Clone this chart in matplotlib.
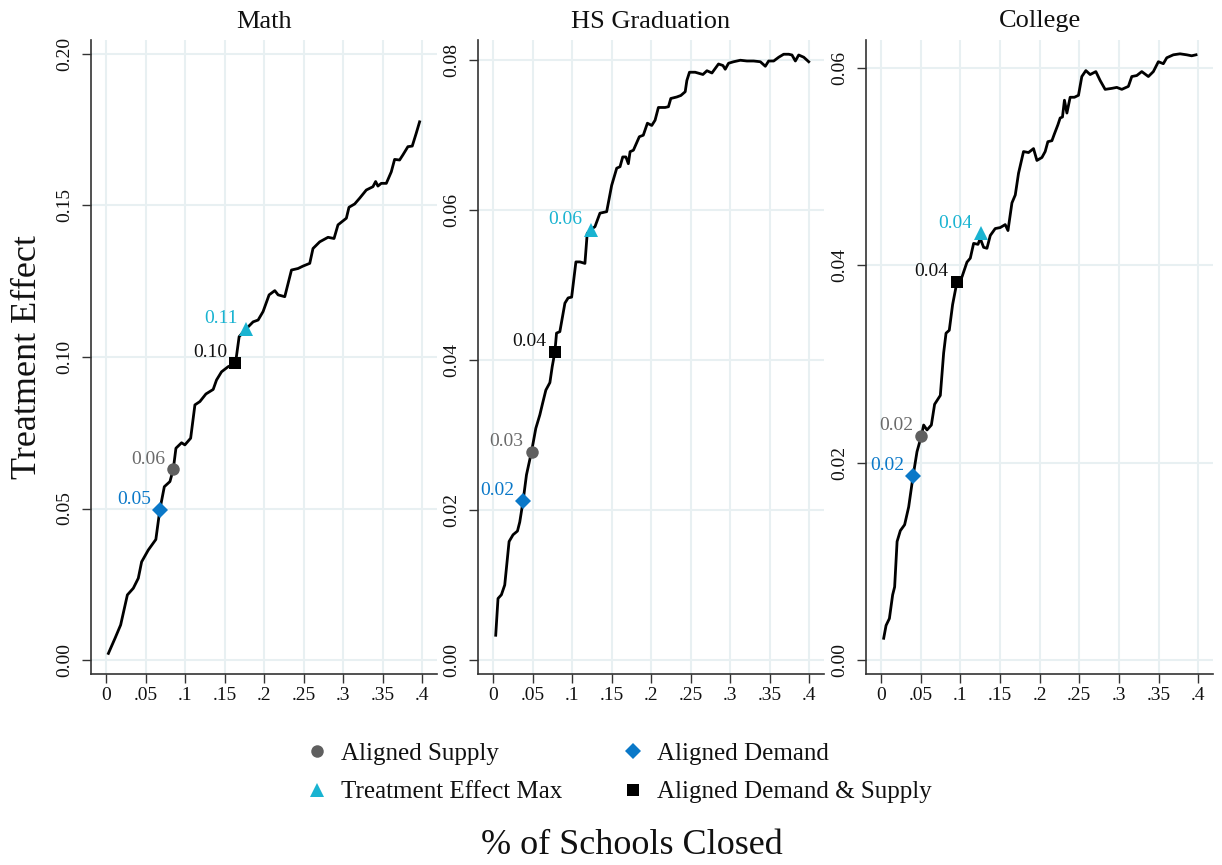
import matplotlib
matplotlib.use("Agg")
import matplotlib.pyplot as plt
from matplotlib.lines import Line2D

plt.rcParams['font.family'] = ['Liberation Serif', 'DejaVu Serif']

# ---------------- data ----------------
titles = ["Math", "HS Graduation", "College"]

math_x = [0.003, 0.0114, 0.0185, 0.027, 0.0345, 0.0408, 0.045, 0.0534, 0.063, 0.068, 0.0737, 0.0808, 0.085, 0.0884, 0.0955,
          0.0997, 0.107, 0.1124, 0.1187, 0.1263, 0.1355, 0.1397, 0.146, 0.1544, 0.1637, 0.1683, 0.1776, 0.186, 0.1923, 0.1986,
          0.2062, 0.2134, 0.2176, 0.226, 0.2345, 0.2428, 0.2491, 0.2576, 0.2617, 0.2702, 0.2807, 0.2883, 0.2933, 0.3039, 0.3072,
          0.3144, 0.3207, 0.3291, 0.3375, 0.3409, 0.3438, 0.348, 0.3544, 0.3607, 0.3649, 0.3712, 0.3754, 0.3817, 0.3872, 0.3922, 0.3965]
math_y = [0.0022, 0.0072, 0.0116, 0.0215, 0.0237, 0.027, 0.0324, 0.0363, 0.0398, 0.0495, 0.0572, 0.0589, 0.0629, 0.0699, 0.0717,
          0.071, 0.0732, 0.0842, 0.0853, 0.0878, 0.0893, 0.0924, 0.0951, 0.0968, 0.0979, 0.1067, 0.1094, 0.1116, 0.1122, 0.115,
          0.1205, 0.1219, 0.1205, 0.1199, 0.1287, 0.1292, 0.13, 0.1309, 0.1358, 0.138, 0.1395, 0.1391, 0.1436, 0.1458, 0.1494,
          0.1505, 0.1524, 0.1551, 0.1562, 0.1579, 0.1564, 0.1573, 0.1573, 0.1611, 0.1652, 0.165, 0.1667, 0.1694, 0.1696, 0.1738, 0.1776]

hs_x = [0.0034, 0.0063, 0.0106, 0.0148, 0.0203, 0.0253, 0.0309, 0.0338, 0.038, 0.0423, 0.0487, 0.0541, 0.0592, 0.0626, 0.0668,
        0.0719, 0.0748, 0.0782, 0.0803, 0.0845, 0.0909, 0.095, 0.0994, 0.1048, 0.1099, 0.1162, 0.1191, 0.1234, 0.1289, 0.1352,
        0.1437, 0.15, 0.1564, 0.1606, 0.164, 0.168, 0.1711, 0.1733, 0.1775, 0.185, 0.19, 0.1952, 0.2007, 0.2049, 0.2091,
        0.2176, 0.2218, 0.2248, 0.2324, 0.2375, 0.243, 0.2451, 0.2484, 0.2556, 0.2654, 0.2705, 0.2768, 0.2851, 0.2907, 0.2936,
        0.2978, 0.3042, 0.3127, 0.3211, 0.3295, 0.338, 0.3443, 0.3485, 0.3549, 0.3612, 0.3675, 0.3739, 0.378, 0.3823, 0.3865,
        0.3929, 0.3992]
hs_y = [0.0033, 0.0082, 0.0087, 0.01, 0.0158, 0.0167, 0.0172, 0.0184, 0.0212, 0.0247, 0.0278, 0.0309, 0.0327, 0.0342, 0.036,
        0.037, 0.0391, 0.0411, 0.0436, 0.0438, 0.0476, 0.0483, 0.0484, 0.0531, 0.0531, 0.0529, 0.0569, 0.0574, 0.0578, 0.0596,
        0.0598, 0.0633, 0.0656, 0.0658, 0.0671, 0.0671, 0.0662, 0.0678, 0.068, 0.0698, 0.07, 0.0716, 0.0713, 0.072, 0.0737,
        0.0737, 0.0738, 0.0749, 0.0751, 0.0753, 0.0758, 0.0773, 0.0784, 0.0784, 0.0781, 0.0786, 0.0783, 0.0795, 0.0793, 0.0788,
        0.0796, 0.0798, 0.08, 0.0799, 0.0799, 0.0798, 0.0792, 0.0799, 0.0799, 0.0804, 0.0808, 0.0808, 0.0807, 0.0799, 0.0807,
        0.0804, 0.0798]

col_x = [0.0033, 0.0063, 0.0105, 0.0146, 0.0171, 0.0202, 0.0243, 0.0297, 0.0348, 0.0403, 0.0453, 0.0508, 0.0537, 0.0579, 0.0634,
         0.0675, 0.0747, 0.0789, 0.0819, 0.086, 0.0902, 0.0957, 0.102, 0.1083, 0.1125, 0.1167, 0.1222, 0.125, 0.1293, 0.1335,
         0.1377, 0.1439, 0.1502, 0.1565, 0.16, 0.165, 0.1692, 0.1733, 0.1796, 0.1859, 0.1922, 0.1965, 0.2028, 0.2069, 0.2103,
         0.2154, 0.2186, 0.2229, 0.2258, 0.2287, 0.2312, 0.2343, 0.2384, 0.2438, 0.2489, 0.2531, 0.2582, 0.2636, 0.2708, 0.2762,
         0.2825, 0.2909, 0.2972, 0.3035, 0.3118, 0.3161, 0.3224, 0.3287, 0.337, 0.3433, 0.3496, 0.3559, 0.3602, 0.3685, 0.3769,
         0.3853, 0.3916, 0.3971]
col_y = [0.0022, 0.0035, 0.0042, 0.0066, 0.0074, 0.012, 0.0131, 0.0137, 0.0155, 0.0186, 0.0211, 0.0227, 0.0238, 0.0233, 0.0238,
         0.0259, 0.0268, 0.0311, 0.0331, 0.0334, 0.036, 0.0383, 0.0388, 0.0403, 0.0407, 0.0422, 0.0421, 0.0427, 0.0418, 0.0417,
         0.043, 0.0437, 0.0438, 0.0441, 0.0435, 0.0463, 0.0471, 0.0493, 0.0515, 0.0514, 0.0518, 0.0506, 0.0509, 0.0515, 0.0525,
         0.0526, 0.0533, 0.0542, 0.0549, 0.055, 0.0567, 0.0554, 0.057, 0.057, 0.0572, 0.0591, 0.0597, 0.0593, 0.0596, 0.0587,
         0.0578, 0.0579, 0.058, 0.0578, 0.0581, 0.0591, 0.0592, 0.0596, 0.0591, 0.0596, 0.0606, 0.0604, 0.061, 0.0613, 0.0614,
         0.0613, 0.0612, 0.0613]

# marker points per panel: [Math, HS, College]
supply_x = [0.085, 0.0487, 0.0508]
supply_y = [0.0629, 0.0278, 0.0227]
supply_lbl = ["0.06", "0.03", "0.02"]
demand_x = [0.068, 0.038, 0.0403]
demand_y = [0.0495, 0.0212, 0.0186]
demand_lbl = ["0.05", "0.02", "0.02"]
max_x = [0.1776, 0.1234, 0.126]
max_y = [0.1094, 0.0574, 0.0432]
max_lbl = ["0.11", "0.06", "0.04"]
both_x = [0.1637, 0.0782, 0.0957]
both_y = [0.0979, 0.0411, 0.0383]
both_lbl = ["0.10", "0.04", "0.04"]

x_ticks = [0, 0.05, 0.1, 0.15, 0.2, 0.25, 0.3, 0.35, 0.4]
x_ticklabels = ["0", ".05", ".1", ".15", ".2", ".25", ".3", ".35", ".4"]
y_ticks = [[0, 0.05, 0.10, 0.15, 0.20], [0, 0.02, 0.04, 0.06, 0.08], [0, 0.02, 0.04, 0.06]]
y_lims = [(-0.0046, 0.2046), (-0.00187, 0.0827), (-0.00142, 0.0628)]

legend_labels = ["Aligned Supply", "Treatment Effect Max", "Aligned Demand", "Aligned Demand & Supply"]

# ---------------- styling ----------------
C_SUPPLY = "#5f5f5f"
C_SUPPLY_TXT = "#6a6a6a"
C_DEMAND = "#0a78c8"
C_MAX = "#19b3d1"
C_BOTH = "#000000"
GRID = "#e8f0f2"
SPINE = "#333333"

W, H = 1222, 865
fig = plt.figure(figsize=(W / 100, H / 100), dpi=100)
fig.patch.set_facecolor("white")

lefts = [91, 478, 866]
widths = [346, 346, 347]
top_px, bot_px = 40, 674

series = [(math_x, math_y), (hs_x, hs_y), (col_x, col_y)]

for i in range(3):
    ax = fig.add_axes([lefts[i] / W, 1 - bot_px / H, widths[i] / W, (bot_px - top_px) / H])
    xs, ys = series[i]
    ax.plot(xs, ys, color="black", lw=2.0, zorder=3, solid_joinstyle="round")

    pts = [
        (supply_x[i], supply_y[i], supply_lbl[i], "o", C_SUPPLY, C_SUPPLY_TXT, 9),
        (demand_x[i], demand_y[i], demand_lbl[i], "D", C_DEMAND, C_DEMAND, 7.8),
        (max_x[i], max_y[i], max_lbl[i], "^", C_MAX, C_MAX, 10),
        (both_x[i], both_y[i], both_lbl[i], "s", C_BOTH, "#111111", 8.5),
    ]
    for (px, py, lbl, mk, mc, tc, ms) in pts:
        ax.plot([px], [py], marker=mk, color=mc, ms=ms, mew=0, ls="none", zorder=4)
        ax.annotate(lbl, (px, py), xytext=(-6, 7.5), textcoords="offset points",
                    ha="right", va="center", color=tc, fontsize=14, zorder=5)

    ax.set_xlim(-0.019, 0.4185)
    ax.set_ylim(*y_lims[i])
    ax.set_xticks(x_ticks)
    ax.set_xticklabels(x_ticklabels)
    ax.set_yticks(y_ticks[i])
    ax.set_yticklabels(["%.2f" % v for v in y_ticks[i]], rotation=90, va="center")
    ax.grid(True, color=GRID, lw=1.5, zorder=0)
    ax.set_axisbelow(True)
    for s in ["top", "right"]:
        ax.spines[s].set_visible(False)
    for s in ["left", "bottom"]:
        ax.spines[s].set_color(SPINE)
        ax.spines[s].set_linewidth(1.2)
    ax.tick_params(axis="both", direction="out", length=6.5, width=1.0, color=SPINE,
                   labelsize=14, labelcolor="#111111")
    ax.tick_params(axis="y", pad=6)
    ax.tick_params(axis="x", pad=3)
    ax.set_title(titles[i], fontsize=19, pad=9, color="#111111")

# y label and x label
fig.text(28 / W, 1 - 357 / H, "Treatment Effect", rotation=90, ha="center", va="center",
         fontsize=26, color="#111111")
fig.text(632 / W, 1 - 845 / H, "% of Schools Closed", ha="center", va="center",
         fontsize=26, color="#111111")

# legend
handles = [
    Line2D([], [], marker="o", color=C_SUPPLY, ls="none", ms=9, mew=0),
    Line2D([], [], marker="^", color=C_MAX, ls="none", ms=10, mew=0),
    Line2D([], [], marker="D", color=C_DEMAND, ls="none", ms=7.8, mew=0),
    Line2D([], [], marker="s", color=C_BOTH, ls="none", ms=8.5, mew=0),
]
fig.legend(handles, legend_labels, ncol=2, loc="center", bbox_to_anchor=(618 / W, 1 - 773 / H),
           frameon=False, fontsize=18, handlelength=1.0, handletextpad=0.48, columnspacing=2.3,
           labelspacing=0.63, labelcolor="#111111")

fig.savefig("out.png", dpi=100, facecolor="white")
